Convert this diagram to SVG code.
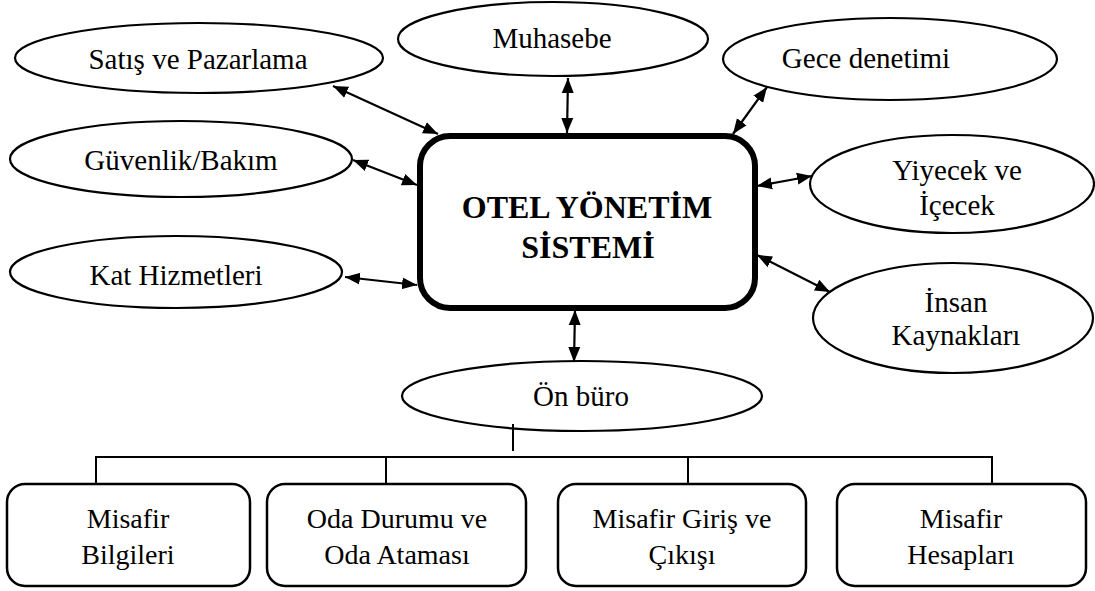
<svg xmlns="http://www.w3.org/2000/svg" width="1095" height="591" viewBox="0 0 1095 591">
<style>
.el{fill:#fff;stroke:#000;stroke-width:2.2}
.bx{fill:#fff;stroke:#000;stroke-width:2.5}
.t{font-family:"Liberation Serif","Times New Roman",serif;font-size:28px;fill:#000;text-anchor:middle}
.te{font-size:29px}
.tb{font-family:"Liberation Serif","Times New Roman",serif;font-size:32px;font-weight:bold;fill:#000;text-anchor:middle}
.ar{stroke:#000;stroke-width:2.2;fill:none;marker-start:url(#ah);marker-end:url(#ah)}
.ln{stroke:#000;stroke-width:2;fill:none}
</style>
<defs>
<marker id="ah" markerUnits="userSpaceOnUse" markerWidth="16" markerHeight="14" refX="15" refY="7" orient="auto-start-reverse">
<path d="M0,1 L15,7 L0,13 z" fill="#000"/>
</marker>
</defs>
<rect width="1095" height="591" fill="#fff"/>
<g id="satis"><ellipse class="el" cx="199" cy="58" rx="184" ry="35"/><text class="t te" x="198" y="69">Satış ve Pazarlama</text></g>
<g id="muhasebe"><ellipse class="el" cx="553" cy="39" rx="155" ry="37"/><text class="t te" x="552" y="48">Muhasebe</text></g>
<g id="gece"><ellipse class="el" cx="890" cy="59" rx="167" ry="41"/><text class="t te" x="866" y="68">Gece denetimi</text></g>
<g id="guvenlik"><ellipse class="el" cx="181" cy="159" rx="171" ry="38"/><text class="t te" x="181" y="170">Güvenlik/Bakım</text></g>
<g id="yiyecek"><ellipse class="el" cx="952" cy="184" rx="142" ry="49"/><text class="t te" x="957" y="180">Yiyecek ve</text><text class="t te" x="957" y="215">İçecek</text></g>
<g id="insan"><ellipse class="el" cx="953" cy="318" rx="140" ry="55"/><text class="t te" x="956" y="312">İnsan</text><text class="t te" x="956" y="345">Kaynakları</text></g>
<g id="kat"><ellipse class="el" cx="176" cy="272" rx="166" ry="36"/><text class="t te" x="176" y="285">Kat Hizmetleri</text></g>
<g id="onburo"><ellipse class="el" cx="582" cy="396" rx="180" ry="35"/><text class="t te" x="581" y="406">Ön büro</text></g>
<g id="otel"><rect x="420" y="136" width="335" height="172" rx="30" fill="#fff" stroke="#000" stroke-width="6"/><text class="tb" x="587" y="218">OTEL YÖNETİM</text><text class="tb" x="588" y="258">SİSTEMİ</text></g>
<g id="misafir-bilgileri"><rect class="bx" x="7" y="484" width="243" height="102" rx="18"/><text class="t" x="128" y="528">Misafir</text><text class="t" x="128" y="564">Bilgileri</text></g>
<g id="oda"><rect class="bx" x="267" y="484" width="259" height="102" rx="18"/><text class="t" x="397" y="528">Oda Durumu ve</text><text class="t" x="397" y="564">Oda Ataması</text></g>
<g id="giris"><rect class="bx" x="558" y="484" width="248" height="102" rx="18"/><text class="t" x="682" y="528">Misafir Giriş ve</text><text class="t" x="682" y="564">Çıkışı</text></g>
<g id="hesaplar"><rect class="bx" x="837" y="484" width="249" height="102" rx="18"/><text class="t" x="961" y="528">Misafir</text><text class="t" x="961" y="564">Hesapları</text></g>
<g id="connectors">
<line class="ar" x1="333" y1="86" x2="438" y2="134"/>
<line class="ar" x1="353" y1="160" x2="417" y2="185"/>
<line class="ar" x1="345" y1="277" x2="417" y2="285"/>
<line class="ar" x1="568" y1="78" x2="567" y2="133"/>
<line class="ar" x1="767" y1="87" x2="733" y2="134"/>
<line class="ar" x1="757" y1="186" x2="812" y2="176"/>
<line class="ar" x1="757" y1="255" x2="830" y2="292"/>
<line class="ar" x1="575" y1="310" x2="574" y2="362"/>
<polyline class="ln" points="513,424 513,451"/>
<polyline class="ln" points="96,484 96,457 992,457 992,484"/>
<line class="ln" x1="386" y1="457" x2="386" y2="484"/>
<line class="ln" x1="688" y1="457" x2="688" y2="484"/>
</g>
</svg>
